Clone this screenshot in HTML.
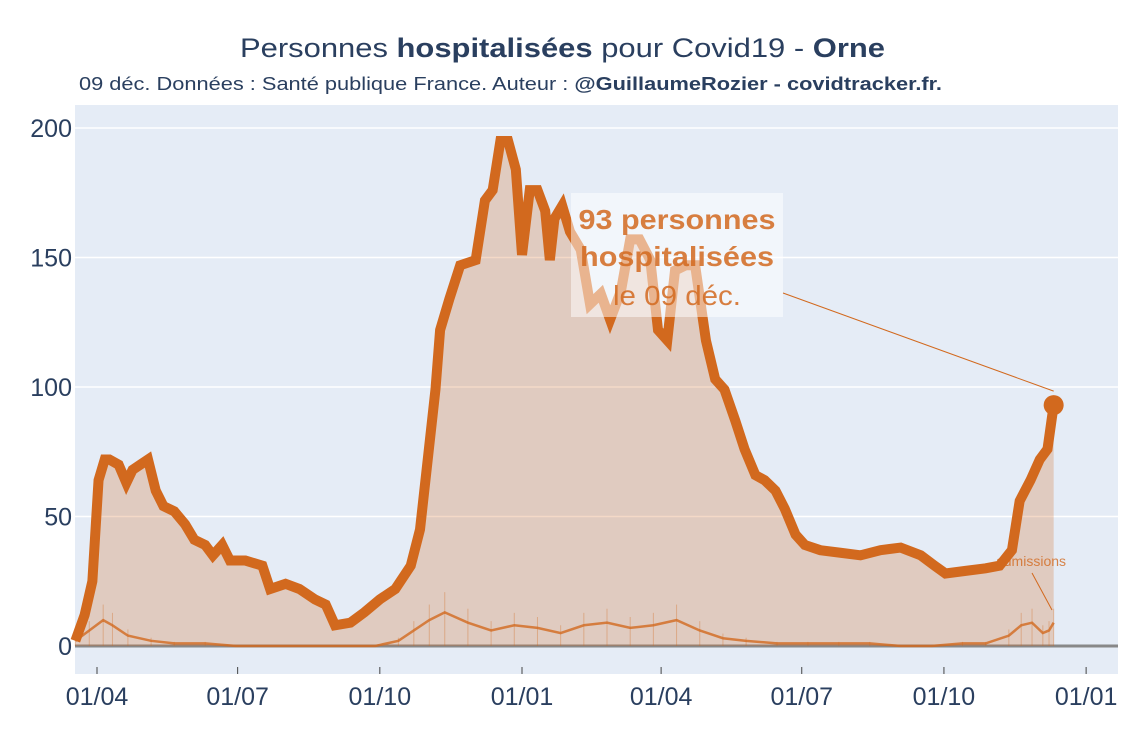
<!DOCTYPE html>
<html><head><meta charset="utf-8"><style>
body{margin:0;background:#fff;}
svg{display:block;font-family:"Liberation Sans",sans-serif;}
</style></head><body>
<svg id="chart" width="1125" height="750" xmlns="http://www.w3.org/2000/svg">
<text x="240" y="57" font-size="27" fill="#2a3f5f" textLength="645" lengthAdjust="spacingAndGlyphs">Personnes <tspan font-weight="bold">hospitalisées</tspan> pour Covid19 - <tspan font-weight="bold">Orne</tspan></text>
<text x="79" y="90" font-size="18" fill="#2a3f5f" textLength="863" lengthAdjust="spacingAndGlyphs">09 déc. Données : Santé publique France. Auteur : <tspan font-weight="bold">@GuillaumeRozier - covidtracker.fr.</tspan></text>
<rect x="75" y="105" width="1043" height="569" fill="#e5ecf6"/>
<g id="grid"></g>
<g id="marks"></g>
<g id="axes"></g>
<g id="annot"></g>
</svg>
<script>
const days=[-14,-8,-3,1,5,8,14,19,23,28,33,38,43,50,57,63,70,75,81,86,96,107,112,122,131,141,148,154,164,173,183,193,203,209,219,222,228,235,245,251,256,261,266,271,275,280,285,290,293,296,301,306,313,319,326,332,339,345,351,358,363,369,374,381,387,394,400,406,413,419,426,432,439,445,452,458,468,481,494,507,520,533,542,549,562,575,584,592,597,604,610,615,619];
const hosp=[2,12,25,64,72,72,70,63,68,70,72,60,54,52,47,41,39,35,39,33,33,31,22,24,22,18,16,8,9,13,18,22,31,45,99,122,134,147,149,172,176,195,195,184,151,176,176,168,149,165,170,160,153,132,136,126,137,157,157,149,122,118,145,147,147,118,103,99,87,76,66,64,60,53,43,39,37,36,35,37,38,35,31,28,29,30,31,37,56,64,72,76,93];
const admDays=[-14,-5,4,10,20,35,50,70,90,120,150,180,195,205,215,225,240,255,270,285,300,315,330,345,360,375,390,405,420,440,460,480,500,520,540,560,575,590,598,605,612,616,619];
const admissions=[2,6,10,8,4,2,1,1,0,0,0,0,2,6,10,13,9,6,8,7,5,8,9,7,8,10,6,3,2,1,1,1,1,0,0,1,1,4,8,9,5,6,9];
const yTicks=[0,50,100,150,200];
const xTickDays=[0,91,183,275,365,456,548,640];
const xTickLabels=["01/04","01/07","01/10","01/01","01/04","01/07","01/10","01/01"];
const NS="http://www.w3.org/2000/svg";
const X=d=>97+d*1.5455, Y=v=>646-v*2.59;
function el(p,t,a){const e=document.createElementNS(NS,t);for(const k in a)e.setAttribute(k,a[k]);p.appendChild(e);return e;}
const grid=document.getElementById('grid'),marks=document.getElementById('marks'),axes=document.getElementById('axes'),annot=document.getElementById('annot');
yTicks.forEach(v=>{
 const l=el(grid,'line',{x1:75,x2:1118,y1:Y(v),y2:Y(v),stroke:v===0?'#888':'#fff','stroke-width':v===0?3:1.5});
 
 
 const t=el(axes,'text',{x:72,y:Y(v)+9,'text-anchor':'end','font-size':25,fill:'#2a3f5f'});t.textContent=v;
 
 
});
xTickDays.forEach((d,i)=>{
 const k=el(axes,'line',{x1:X(d),x2:X(d),y1:667,y2:674,stroke:'#444','stroke-width':1});
 
 
 const t=el(axes,'text',{x:X(d),y:705,'text-anchor':'middle','font-size':25,fill:'#2a3f5f'});t.textContent=xTickLabels[i];
 
 
});
let p='M'+X(days[0])+','+Y(0);days.forEach((d,i)=>p+=' L'+X(d)+','+Y(hosp[i]));p+=' L'+X(days[days.length-1])+','+Y(0)+'Z';
const area=el(marks,'path',{d:p,fill:'rgba(210,105,30,0.25)'});


admDays.forEach((d,i)=>{const b=el(marks,'line',{x1:X(d),x2:X(d),y1:Y(0),y2:Y(admissions[i]*1.6),stroke:'rgba(210,105,30,0.35)','stroke-width':1});
 
 });
let ap='';admDays.forEach((d,i)=>ap+=(i?' L':'M')+X(d)+','+Y(admissions[i]));
const al=el(marks,'path',{d:ap,fill:'none',stroke:'#d2691e','stroke-width':2.5,opacity:0.8});


let lp='';days.forEach((d,i)=>lp+=(i?' L':'M')+X(d)+','+Y(hosp[i]));
const hl=el(marks,'path',{d:lp,fill:'none',stroke:'#d2691e','stroke-width':10,'stroke-linejoin':'miter'});


const lx=X(days[days.length-1]),ly=Y(hosp[hosp.length-1]);
const dot=el(marks,'circle',{cx:lx,cy:ly,r:10,fill:'#d2691e'});


const ln=el(annot,'line',{x1:783,y1:293,x2:lx,y2:ly-14,stroke:'#d2691e','stroke-width':1});


const box=el(annot,'rect',{x:571,y:193,width:212,height:124,fill:'rgba(255,255,255,0.5)'});


[['93 personnes',229,'bold',197],['hospitalisées',266,'bold',194],['le 09 déc.',305,'normal',128]].forEach(r=>{
 const t=el(annot,'text',{x:677,y:r[1],'text-anchor':'middle','font-size':28,'font-weight':r[2],fill:'rgba(210,105,30,0.85)',textLength:r[3],lengthAdjust:'spacingAndGlyphs'});t.textContent=r[0];
 
 
});
const at=el(annot,'text',{x:1031,y:566,'text-anchor':'middle','font-size':14,fill:'rgba(210,105,30,0.8)'});at.textContent='admissions';


const al2=el(annot,'line',{x1:1032,y1:573,x2:1052,y2:610,stroke:'#d2691e','stroke-width':1});


</script>
</body></html>
